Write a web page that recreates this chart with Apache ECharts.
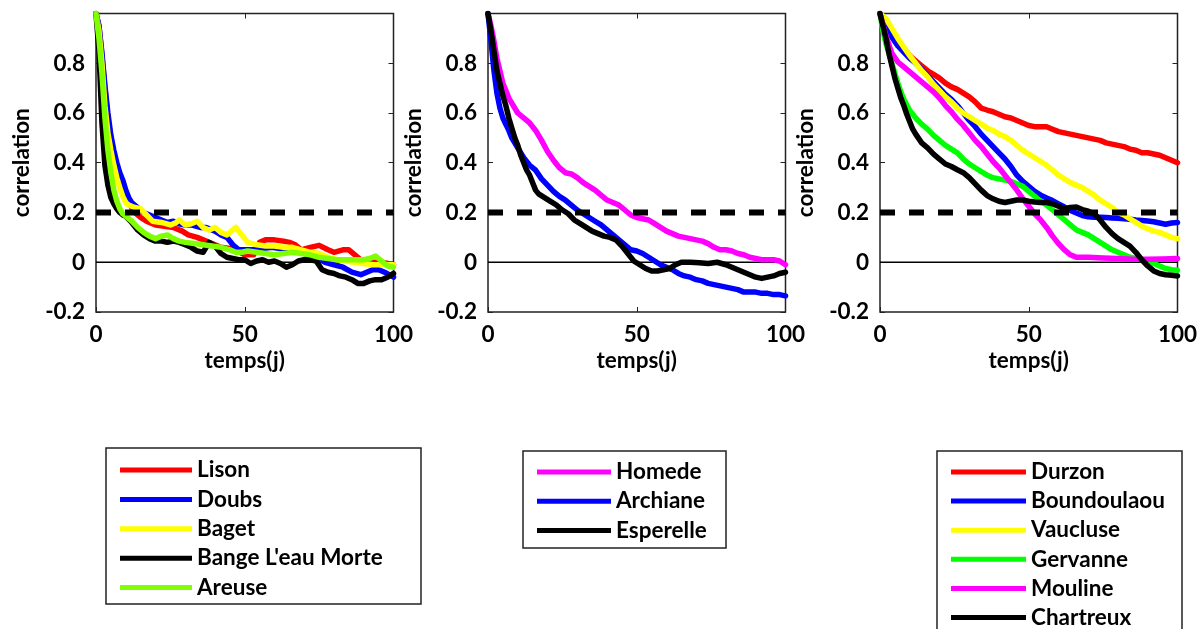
<!DOCTYPE html>
<html>
<head>
<meta charset="utf-8">
<script src="https://cdn.jsdelivr.net/npm/echarts@6/dist/echarts.min.js"></script>
<style>
html,body{margin:0;padding:0;background:#fff;}
#chart{width:1202px;height:629px;}
</style>
</head>
<body>
<div id="chart"></div>
<script>
// ---- data: [day, correlation] ----
const xTicks = [0, 50, 100];
const yTicks = [-0.2, 0, 0.2, 0.4, 0.6, 0.8];
const threshold = 0.2;

// Panel 1
const lison = [[0,1],[1,0.95],[2,0.83],[3,0.7],[4,0.58],[5,0.5],[6,0.43],[7,0.39],[8,0.35],[9,0.31],[10,0.27],[11,0.24],[12,0.22],[13,0.2],[15,0.18],[17,0.165],[20,0.15],[23,0.145],[26,0.14],[29,0.125],[31,0.11],[34,0.1],[36,0.09],[39,0.075],[42,0.06],[45,0.055],[47,0.05],[50,0.03],[53,0.03],[55,0.08],[57,0.09],[60,0.09],[63,0.085],[65,0.08],[67,0.07],[69,0.05],[72,0.06],[75,0.068],[78,0.05],[80,0.04],[83,0.05],[85,0.05],[87,0.03],[89,0.01],[91,0.0],[93,0.0],[96,0.0],[100,-0.01]];
const doubs = [[0,1],[1,0.95],[2,0.84],[3,0.71],[4,0.6],[5,0.51],[6,0.45],[7,0.4],[8,0.36],[9,0.33],[10,0.29],[11,0.26],[12,0.24],[14,0.22],[16,0.2],[18,0.19],[20,0.18],[22,0.17],[24,0.16],[26,0.165],[28,0.155],[30,0.15],[32,0.15],[35,0.14],[37,0.14],[40,0.125],[42,0.11],[44,0.1],[46,0.07],[48,0.05],[50,0.05],[53,0.05],[56,0.055],[59,0.06],[62,0.055],[65,0.05],[68,0.045],[71,0.03],[74,0.02],[77,0.0],[80,-0.01],[83,-0.02],[86,-0.04],[89,-0.05],[91,-0.04],[93,-0.03],[95,-0.03],[97,-0.04],[100,-0.06]];
const baget = [[0,1],[1,0.93],[2,0.8],[3,0.63],[4,0.52],[5,0.45],[6,0.39],[7,0.34],[8,0.3],[9,0.265],[10,0.24],[11,0.23],[13,0.22],[15,0.215],[17,0.19],[19,0.165],[22,0.16],[25,0.15],[27,0.16],[28,0.17],[30,0.15],[32,0.155],[34,0.165],[36,0.14],[38,0.13],[40,0.14],[42,0.12],[44,0.11],[46,0.13],[47,0.14],[49,0.11],[51,0.08],[54,0.07],[57,0.065],[60,0.065],[63,0.06],[66,0.06],[69,0.05],[72,0.04],[75,0.035],[78,0.02],[81,0.01],[84,0.005],[87,0.0],[90,-0.005],[93,-0.01],[96,-0.01],[100,-0.01]];
const bange = [[0,1],[1,0.85],[2,0.56],[3,0.39],[4,0.31],[5,0.26],[6,0.235],[7,0.215],[8,0.2],[9,0.19],[10,0.185],[12,0.16],[14,0.13],[16,0.11],[18,0.095],[20,0.085],[22,0.085],[24,0.08],[26,0.085],[28,0.08],[30,0.07],[32,0.06],[34,0.045],[36,0.04],[37,0.06],[38,0.08],[40,0.065],[42,0.035],[44,0.02],[46,0.015],[48,0.01],[50,0.01],[52,-0.005],[54,0.005],[56,0.01],[58,0.0],[60,0.005],[62,-0.005],[64,-0.02],[66,-0.01],[68,0.005],[70,0.01],[72,0.01],[74,0.005],[76,-0.03],[78,-0.04],[80,-0.045],[82,-0.055],[84,-0.06],[86,-0.07],[88,-0.085],[90,-0.085],[92,-0.075],[94,-0.07],[96,-0.07],[98,-0.06],[100,-0.045]];
const areuse = [[0,1],[1,0.9],[2,0.76],[3,0.58],[4,0.45],[5,0.36],[6,0.29],[7,0.245],[8,0.215],[9,0.195],[10,0.185],[12,0.165],[14,0.14],[16,0.12],[18,0.105],[20,0.095],[22,0.105],[24,0.11],[26,0.095],[28,0.085],[30,0.08],[33,0.075],[36,0.07],[39,0.065],[42,0.06],[45,0.05],[47,0.04],[49,0.04],[51,0.045],[54,0.04],[57,0.035],[60,0.03],[63,0.035],[66,0.04],[69,0.035],[72,0.03],[75,0.02],[78,0.015],[81,0.01],[84,0.01],[87,0.01],[90,0.01],[92,0.015],[94,0.025],[96,0.005],[98,-0.015],[100,-0.02]];

// Panel 2
const homede = [[0,1],[1,0.95],[2,0.89],[3,0.82],[4,0.77],[5,0.72],[6,0.69],[7,0.66],[8,0.64],[10,0.6],[12,0.58],[14,0.56],[16,0.53],[18,0.49],[20,0.445],[22,0.41],[24,0.38],[26,0.36],[28,0.355],[30,0.34],[32,0.32],[34,0.305],[36,0.29],[38,0.27],[40,0.25],[42,0.24],[44,0.23],[46,0.21],[48,0.19],[50,0.18],[52,0.175],[54,0.17],[56,0.155],[58,0.14],[60,0.125],[62,0.115],[64,0.105],[66,0.1],[68,0.095],[70,0.09],[72,0.085],[74,0.075],[76,0.06],[78,0.05],[80,0.05],[82,0.045],[84,0.035],[86,0.03],[88,0.02],[90,0.015],[92,0.01],[94,0.01],[96,0.01],[98,0.005],[100,-0.01]];
const archiane = [[0,1],[1,0.89],[2,0.77],[3,0.68],[4,0.62],[5,0.58],[6,0.555],[7,0.53],[8,0.5],[10,0.46],[12,0.42],[14,0.39],[16,0.37],[18,0.335],[20,0.31],[22,0.285],[24,0.265],[26,0.25],[28,0.23],[30,0.21],[32,0.195],[34,0.18],[36,0.165],[38,0.15],[40,0.13],[42,0.11],[44,0.09],[46,0.07],[48,0.05],[50,0.045],[52,0.035],[54,0.02],[56,0.005],[58,-0.01],[60,-0.02],[62,-0.03],[64,-0.045],[66,-0.055],[68,-0.06],[70,-0.07],[72,-0.075],[74,-0.085],[76,-0.09],[78,-0.095],[80,-0.1],[82,-0.105],[84,-0.11],[86,-0.12],[88,-0.12],[90,-0.12],[92,-0.125],[94,-0.125],[96,-0.13],[98,-0.13],[100,-0.135]];
const esperelle = [[0,1],[1,0.93],[2,0.85],[3,0.77],[4,0.72],[5,0.67],[6,0.63],[7,0.58],[8,0.54],[9,0.5],[10,0.47],[11,0.43],[12,0.4],[13,0.37],[14,0.35],[15,0.32],[16,0.29],[17,0.275],[19,0.26],[21,0.245],[23,0.23],[25,0.21],[27,0.195],[29,0.17],[31,0.155],[33,0.14],[35,0.125],[37,0.115],[39,0.105],[41,0.1],[43,0.09],[45,0.065],[47,0.035],[49,0.005],[51,-0.01],[53,-0.025],[55,-0.035],[57,-0.035],[59,-0.03],[61,-0.025],[63,-0.01],[65,0.0],[68,0.0],[71,-0.002],[74,-0.005],[77,0.0],[80,-0.01],[82,-0.02],[84,-0.03],[86,-0.04],[88,-0.05],[90,-0.06],[92,-0.065],[94,-0.06],[96,-0.055],[98,-0.045],[100,-0.04]];

// Panel 3
const durzon = [[0,1],[2,0.955],[4,0.91],[6,0.885],[8,0.86],[10,0.83],[12,0.81],[14,0.79],[16,0.77],[18,0.755],[20,0.74],[22,0.72],[24,0.705],[26,0.695],[28,0.68],[30,0.665],[32,0.645],[34,0.62],[36,0.612],[38,0.605],[40,0.595],[42,0.585],[44,0.58],[46,0.57],[48,0.56],[50,0.55],[52,0.545],[54,0.545],[56,0.545],[58,0.535],[60,0.525],[62,0.52],[64,0.515],[66,0.51],[68,0.505],[70,0.5],[72,0.495],[74,0.49],[76,0.48],[78,0.475],[80,0.47],[82,0.465],[84,0.455],[86,0.45],[88,0.44],[90,0.44],[92,0.435],[94,0.43],[96,0.42],[98,0.41],[100,0.4]];
const boundoulaou = [[0,1],[2,0.95],[4,0.905],[6,0.87],[8,0.845],[10,0.82],[12,0.8],[14,0.775],[16,0.75],[18,0.725],[20,0.7],[22,0.675],[24,0.655],[26,0.63],[28,0.6],[30,0.57],[32,0.545],[34,0.515],[36,0.49],[38,0.465],[40,0.44],[42,0.415],[44,0.385],[46,0.35],[48,0.325],[50,0.305],[52,0.285],[54,0.27],[56,0.258],[58,0.248],[60,0.235],[62,0.222],[64,0.208],[66,0.198],[68,0.188],[70,0.183],[72,0.181],[74,0.181],[76,0.18],[78,0.178],[80,0.177],[82,0.175],[84,0.173],[86,0.17],[88,0.168],[90,0.166],[92,0.163],[94,0.158],[96,0.153],[98,0.158],[100,0.16]];
const vaucluse = [[0,1],[2,0.98],[4,0.94],[6,0.9],[8,0.865],[10,0.83],[12,0.8],[14,0.77],[16,0.745],[18,0.715],[20,0.69],[22,0.665],[24,0.645],[26,0.62],[28,0.6],[30,0.585],[32,0.57],[34,0.555],[36,0.54],[38,0.53],[40,0.515],[42,0.505],[44,0.49],[46,0.47],[48,0.45],[50,0.435],[52,0.42],[54,0.405],[56,0.39],[58,0.37],[60,0.35],[62,0.335],[64,0.32],[66,0.31],[68,0.3],[70,0.285],[72,0.27],[74,0.25],[76,0.235],[78,0.22],[80,0.2],[82,0.19],[84,0.175],[86,0.16],[88,0.145],[90,0.135],[92,0.125],[94,0.12],[96,0.11],[98,0.1],[100,0.095]];
const gervanne = [[0,1],[1,0.93],[2,0.88],[3,0.84],[4,0.8],[5,0.76],[6,0.72],[7,0.685],[8,0.655],[10,0.61],[12,0.58],[14,0.555],[16,0.535],[18,0.51],[20,0.49],[22,0.47],[24,0.455],[26,0.44],[28,0.415],[30,0.395],[32,0.38],[34,0.365],[36,0.35],[38,0.34],[40,0.335],[42,0.33],[44,0.325],[46,0.315],[48,0.305],[50,0.285],[52,0.265],[54,0.245],[56,0.23],[58,0.21],[60,0.19],[62,0.17],[64,0.15],[66,0.13],[68,0.12],[70,0.11],[72,0.095],[74,0.08],[76,0.065],[78,0.05],[80,0.04],[82,0.03],[84,0.02],[86,0.015],[88,0.01],[90,0.005],[92,-0.005],[94,-0.015],[96,-0.025],[98,-0.03],[100,-0.032]];
const mouline = [[0,1],[2,0.91],[4,0.84],[6,0.805],[8,0.785],[10,0.765],[12,0.745],[14,0.725],[16,0.705],[18,0.685],[20,0.66],[22,0.63],[24,0.605],[26,0.575],[28,0.55],[30,0.52],[32,0.49],[34,0.465],[36,0.435],[38,0.405],[40,0.38],[42,0.35],[44,0.32],[46,0.29],[48,0.255],[50,0.225],[52,0.195],[54,0.17],[56,0.14],[58,0.105],[60,0.075],[62,0.05],[64,0.03],[66,0.02],[68,0.02],[70,0.02],[75,0.017],[80,0.015],[85,0.012],[90,0.012],[95,0.013],[100,0.015]];
const chartreux = [[0,1],[1,0.95],[2,0.9],[3,0.84],[4,0.79],[5,0.74],[6,0.7],[7,0.66],[8,0.63],[9,0.595],[10,0.565],[11,0.535],[12,0.515],[14,0.48],[16,0.46],[18,0.435],[20,0.415],[22,0.395],[24,0.385],[26,0.372],[28,0.36],[30,0.34],[32,0.315],[34,0.29],[36,0.268],[38,0.255],[40,0.245],[42,0.24],[44,0.245],[46,0.25],[48,0.25],[50,0.245],[52,0.242],[54,0.24],[56,0.24],[58,0.235],[60,0.225],[62,0.215],[64,0.22],[66,0.222],[68,0.212],[70,0.205],[72,0.195],[74,0.17],[76,0.14],[78,0.115],[80,0.095],[82,0.08],[84,0.065],[86,0.04],[88,0.01],[90,-0.015],[92,-0.035],[94,-0.045],[96,-0.05],[98,-0.052],[100,-0.055]];

const panels = [
  { names: ['Lison','Doubs','Baget',"Bange L'eau Morte",'Areuse'],
    data: [lison, doubs, baget, bange, areuse],
    colors: ['#ff0000','#0000ff','#ffff00','#000000','#80ff00'] },
  { names: ['Homede','Archiane','Esperelle'],
    data: [homede, archiane, esperelle],
    colors: ['#ff00ff','#0000ff','#000000'] },
  { names: ['Durzon','Boundoulaou','Vaucluse','Gervanne','Mouline','Chartreux'],
    data: [durzon, boundoulaou, vaucluse, gervanne, mouline, chartreux],
    colors: ['#ff0000','#0000ff','#ffff00','#00ff00','#ff00ff','#000000'] }
];

// ---- layout ----
const FONT = 'Lato';
const gridLeft = [96, 488, 880];
const gridW = 297.5, gridTop = 13.5, gridH = 298.5;
const legendPos = [
  { left: 120, top: 458.5, iw: 72, gap: 6.4, box: [106, 448, 315, 156] },
  { left: 537, top: 460.5, iw: 74, gap: 6.2, box: [523, 451, 203, 97] },
  { left: 951, top: 460.5, iw: 75, gap: 6.1, box: [937, 451, 245, 200] }
];

const txt = { color: '#000', fontFamily: FONT, fontWeight: 'bold', fontSize: 22.5 };

const option = {
  backgroundColor: '#fff',
  animation: false,
  grid: [], xAxis: [], yAxis: [], series: [], legend: [], graphic: []
};

panels.forEach((p, i) => {
  option.grid.push({ left: gridLeft[i], top: gridTop, width: gridW, height: gridH,
    show: true, borderColor: '#222', borderWidth: 1.5, backgroundColor: 'transparent' });
  const tick = { show: true, inside: true, length: 5, lineStyle: { color: '#222', width: 1 } };
  const line = { show: false, onZero: false };
  option.xAxis.push({ type: 'value', gridIndex: i, min: 0, max: 100, interval: 50,
    axisLine: line, axisTick: tick, splitLine: { show: false },
    axisLabel: Object.assign({ margin: 11, showMinLabel: true, showMaxLabel: true }, txt),
    name: 'temps(j)', nameLocation: 'middle', nameGap: 37, nameTextStyle: txt });
  option.xAxis.push({ type: 'value', gridIndex: i, min: 0, max: 100, interval: 50, position: 'top',
    axisLine: line, axisTick: tick, splitLine: { show: false }, axisLabel: { show: false } });
  option.yAxis.push({ type: 'value', gridIndex: i, min: -0.2, max: 1, interval: 0.2,
    axisLine: line, axisTick: tick, splitLine: { show: false },
    axisLabel: Object.assign({ margin: 11, formatter: v => (v > 0.99 ? '' : String(+v.toFixed(1))) }, txt),
    name: 'correlation', nameLocation: 'middle', nameGap: 63, nameTextStyle: txt });
  option.yAxis.push({ type: 'value', gridIndex: i, min: -0.2, max: 1, interval: 0.2, position: 'right',
    axisLine: line, axisTick: tick, splitLine: { show: false }, axisLabel: { show: false } });

  // zero line
  option.series.push({ type: 'line', name: '_zero' + i, xAxisIndex: 2 * i, yAxisIndex: 2 * i,
    data: [[0, 0], [100, 0]], symbol: 'none', silent: true, z: 1,
    lineStyle: { color: '#000', width: 1.5 } });
  p.data.forEach((d, k) => {
    option.series.push({ type: 'line', name: p.names[k], xAxisIndex: 2 * i, yAxisIndex: 2 * i,
      data: d, symbol: 'none', color: p.colors[k], z: 2 + k,
      lineStyle: { color: p.colors[k], width: 5.5, join: 'round', cap: 'round' } });
  });
  // threshold dashed line
  option.series.push({ type: 'line', name: '_thr' + i, xAxisIndex: 2 * i, yAxisIndex: 2 * i,
    data: [[0, threshold], [100, threshold]], symbol: 'none', silent: true, z: 20,
    lineStyle: { color: '#000', width: 6, type: [15, 14] } });

  const lp = legendPos[i];
  option.legend.push({ data: p.names, orient: 'vertical', left: lp.left, top: lp.top,
    width: 260, height: 300,
    padding: 0, itemGap: lp.gap, itemWidth: lp.iw, itemHeight: 5, icon: 'rect',
    textStyle: Object.assign({ padding: 0 }, txt),
    selectedMode: false });
  option.graphic.push({ type: 'rect', z: 100, silent: true,
    shape: { x: lp.box[0], y: lp.box[1], width: lp.box[2], height: lp.box[3] },
    style: { fill: 'none', stroke: '#222', lineWidth: 1.5 } });
});

const chart = echarts.init(document.getElementById('chart'), null, { renderer: 'canvas' });
chart.setOption(option);
</script>
</body>
</html>
